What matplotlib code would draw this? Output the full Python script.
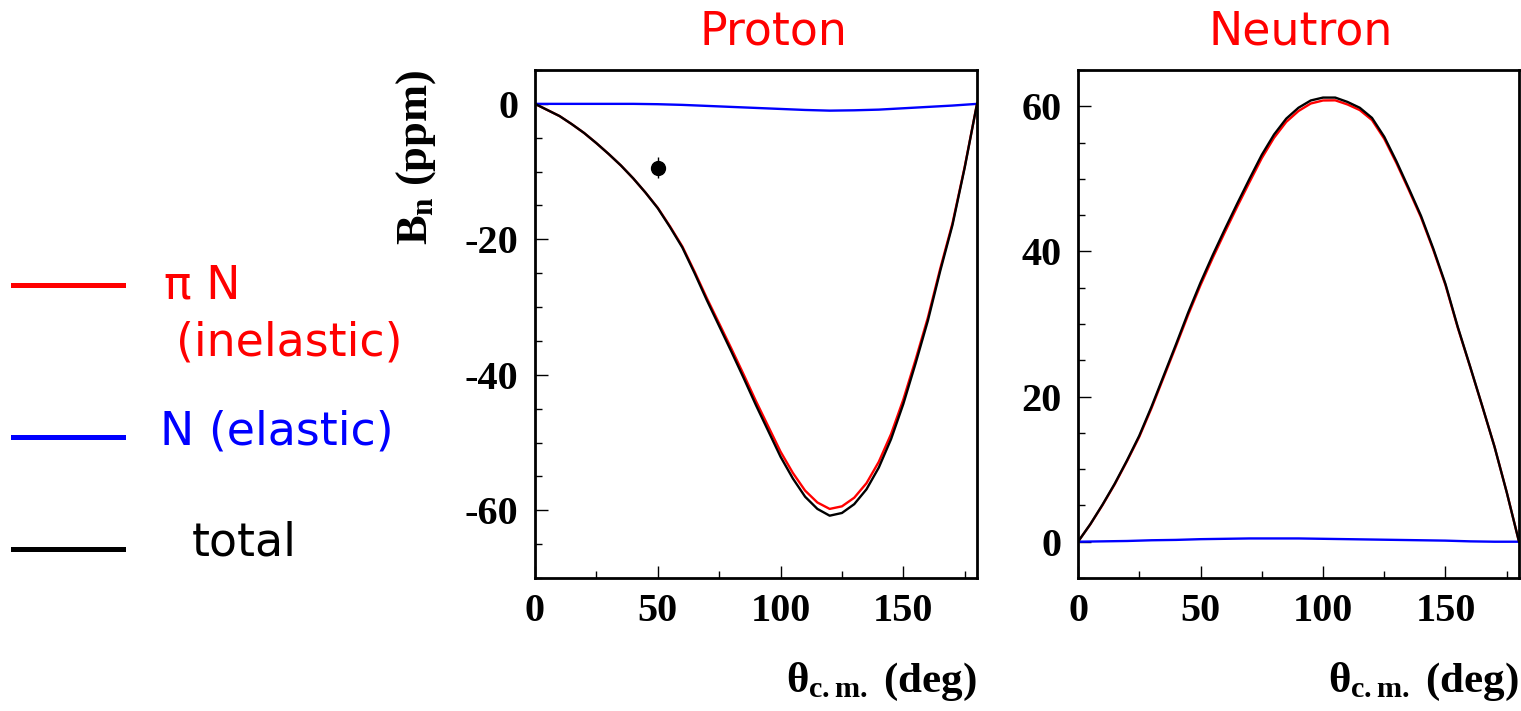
import matplotlib
matplotlib.use('agg')
import matplotlib.pyplot as plt
from matplotlib.lines import Line2D
from matplotlib.ticker import MultipleLocator

# шрифты для формул: жирный прямой Times-подобный
plt.rcParams['mathtext.fontset'] = 'custom'
plt.rcParams['mathtext.rm'] = 'Liberation Serif:bold'
plt.rcParams['mathtext.it'] = 'Liberation Serif:bold'
plt.rcParams['mathtext.bf'] = 'Liberation Serif:bold'
plt.rcParams['axes.unicode_minus'] = False

# углы, градусы
theta = [0, 5, 10, 15, 20, 25, 30, 35, 40, 45, 50, 55, 60, 65, 70, 75, 80, 85, 90,
         95, 100, 105, 110, 115, 120, 125, 130, 135, 140, 145, 150, 155, 160, 165, 170, 175, 180]
theta_el = [0, 10, 20, 30, 40, 50, 60, 70, 80, 90, 100, 110, 120, 130, 140, 150, 160, 170, 180]

# протон
proton_inel = [0, -0.9, -1.8, -3.0, -4.3, -5.8, -7.4, -9.1, -11.0, -13.1, -15.35, -18.1, -21.05,
               -24.78, -28.7, -32.42, -36.15, -39.98, -43.9, -47.62, -51.35, -54.48, -57.1, -58.85,
               -59.8, -59.42, -58.15, -56.0, -52.85, -48.75, -43.65, -37.75, -31.55, -24.35,
               -17.65, -9.28, 0]
proton_tot = [0, -0.9, -1.8, -3.0, -4.3, -5.8, -7.4, -9.1, -11.0, -13.1, -15.4, -18.2, -21.2,
              -25.0, -29.0, -32.8, -36.6, -40.5, -44.5, -48.3, -52.1, -55.3, -58.0, -59.8,
              -60.8, -60.4, -59.1, -56.9, -53.7, -49.5, -44.3, -38.3, -32.0, -24.7,
              -17.9, -9.4, 0]
proton_el = [0, 0, 0, 0, 0, -0.05, -0.15, -0.3, -0.45, -0.6, -0.75,
             -0.9, -1.0, -0.95, -0.85, -0.65, -0.45, -0.25, 0]

# нейтрон
neutron_inel = [0, 2.38, 5.05, 7.92, 11.1, 14.45, 18.4, 22.68, 26.95, 31.3, 35.35, 39.12, 42.7,
                46.18, 49.55, 52.85, 55.65, 57.85, 59.35, 60.38, 60.8, 60.82, 60.25, 59.48,
                58.1, 55.52, 52.15, 48.48, 44.7, 40.23, 35.35, 29.5, 24.15, 18.67, 13.1, 6.8, 0]
neutron_tot = [0, 2.4, 5.1, 8.0, 11.2, 14.6, 18.6, 22.9, 27.2, 31.6, 35.7, 39.5, 43.1,
               46.6, 50.0, 53.3, 56.1, 58.3, 59.8, 60.8, 61.2, 61.2, 60.6, 59.8,
               58.4, 55.8, 52.4, 48.7, 44.9, 40.4, 35.5, 29.6, 24.2, 18.7, 13.1, 6.8, 0]
neutron_el = [0, 0.05, 0.1, 0.2, 0.25, 0.35, 0.4, 0.45, 0.45, 0.45, 0.4,
              0.35, 0.3, 0.25, 0.2, 0.15, 0.05, 0.0, 0]

# экспериментальная точка (протон)
data_x = [50]
data_y = [-9.4]
data_err = [1.55]

W, H = 1521, 711
fig = plt.figure(figsize=(W / 100, H / 100), dpi=100)

ax_p = fig.add_axes([535 / W, 1 - 578 / H, 442 / W, 508 / H])
ax_n = fig.add_axes([1078 / W, 1 - 578 / H, 441 / W, 508 / H])


def style_axes(ax, ylim, yticks):
    ax.set_xlim(0, 180)
    ax.set_ylim(*ylim)
    ax.set_xticks([0, 50, 100, 150])
    ax.set_yticks(yticks)
    ax.xaxis.set_minor_locator(MultipleLocator(25))
    ax.yaxis.set_minor_locator(MultipleLocator(5))
    ax.tick_params(which='both', direction='in', top=False, right=False, width=1)
    ax.tick_params(which='major', length=9)
    ax.tick_params(which='minor', length=5)
    ax.tick_params(axis='y', pad=12)
    ax.tick_params(axis='x', pad=11)
    for lab in ax.get_xticklabels() + ax.get_yticklabels():
        lab.set_fontfamily('Liberation Serif')
        lab.set_fontweight('bold')
        lab.set_fontsize(29)
    for sp in ax.spines.values():
        sp.set_linewidth(2)
    ax.text(1.0, -0.205, r'$\theta_{c.m.}$ (deg)', transform=ax.transAxes,
            ha='right', va='center', fontsize=31, fontfamily='Liberation Serif',
            fontweight='bold')


ax_p.plot(theta, proton_inel, color='red', lw=1.7)
ax_p.plot(theta_el, proton_el, color='blue', lw=1.7)
ax_p.plot(theta, proton_tot, color='black', lw=1.7)
ax_p.errorbar(data_x, data_y, yerr=data_err, fmt='o', color='black', ms=10, elinewidth=1)
style_axes(ax_p, (-70, 5), [0, -20, -40, -60])
ax_p.text(-0.27, 1.0, r'$B_n$ (ppm)', transform=ax_p.transAxes, rotation=90,
          ha='center', va='top', fontsize=32, fontfamily='Liberation Serif',
          fontweight='bold')

ax_n.plot(theta, neutron_inel, color='red', lw=1.7)
ax_n.plot(theta_el, neutron_el, color='blue', lw=1.7)
ax_n.plot(theta, neutron_tot, color='black', lw=1.7)
style_axes(ax_n, (-5, 65), [0, 20, 40, 60])

# заголовки
fig.text(773 / W, 1 - 32 / H, 'Proton', color='red', fontsize=33, ha='center', va='center')
fig.text(1301 / W, 1 - 32 / H, 'Neutron', color='red', fontsize=33, ha='center', va='center')

# легенда слева
for y, c in [(285, 'red'), (437, 'blue'), (549, 'black')]:
    fig.add_artist(Line2D([13 / W, 123 / W], [1 - y / H, 1 - y / H], color=c, lw=3.6))
fig.text(164 / W, 1 - 286 / H, 'π N', color='red', fontsize=33, ha='left', va='center')
fig.text(176 / W, 1 - 343 / H, '(inelastic)', color='red', fontsize=33, ha='left', va='center')
fig.text(160 / W, 1 - 432 / H, 'N (elastic)', color='blue', fontsize=33, ha='left', va='center')
fig.text(192 / W, 1 - 543 / H, 'total', color='black', fontsize=33, ha='left', va='center')

plt.savefig('out.png', dpi=100)
